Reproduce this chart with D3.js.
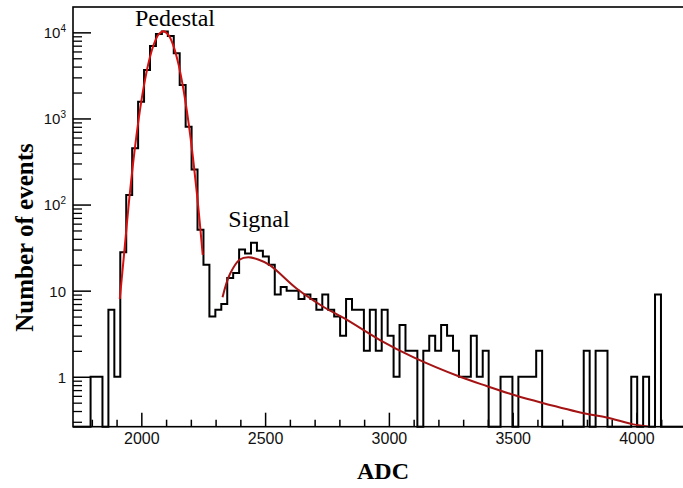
<!DOCTYPE html>
<html>
<head>
<meta charset="utf-8">
<script src="https://cdn.jsdelivr.net/npm/d3@7"></script>
<style>
  html, body { margin: 0; padding: 0; background: #fff; }
  svg { display: block; }
</style>
</head>
<body>
<svg id="chart" width="683" height="488"></svg>
<script>
// ---------------- data ----------------
// histogram: left edge of first bin (ADC), bin width (ADC), counts per bin
const binStart = 1795;
const binWidth = 24;
const counts = [
  1, 1, 0, 6, 1, 28, 129, 450, 1560, 3650,
  6930, 9600, 10200, 9060, 5700, 2440, 800, 256, 51, 20,
  5, 6, 7, 14, 16, 30, 27, 36, 29, 25,
  20, 9, 11, 10, 10, 8, 9, 8, 6, 9,
  6, 5, 3, 8, 6, 6, 2, 6, 2, 6,
  3, 1, 4, 2, 2, 0, 2, 3, 2, 4,
  3, 2, 1, 1, 3, 1, 2, 0, 0, 1,
  1, 0, 1, 1, 1, 2, 0, 0, 0, 0,
  0, 0, 0, 2, 0, 2, 2, 0, 0, 0,
  0, 1, 0, 1, 0, 9
];

// pedestal fit curve (ADC, events)
const pedestalADC = [1913, 1930, 1950, 1970, 1990, 2010, 2030, 2050, 2070, 2089, 2110, 2130, 2150, 2170, 2190, 2210, 2230, 2248];
const pedestalVal = [8, 26, 107, 363, 1017, 2355, 4525, 7190, 9460, 10300, 9280, 6925, 4275, 2183, 924, 324, 94, 26];

// signal fit curve (ADC, events)
const signalADC = [2328, 2358, 2398, 2432, 2472, 2519, 2627, 2735, 2829, 2964, 3100, 3287, 3395, 3509, 3617, 3792, 3880, 3987, 4048];
const signalVal = [8.4, 15.6, 23, 24.4, 23, 19.8, 10.6, 6.5, 4.6, 2.67, 1.68, 1.0, 0.78, 0.61, 0.50, 0.375, 0.337, 0.28, 0.265];

// axes
const xMajorTicks = [2000, 2500, 3000, 3500, 4000];
const xMinorTicks = [1800, 1900, 2100, 2200, 2300, 2400, 2600, 2700, 2800, 2900, 3100, 3200, 3300, 3400, 3600, 3700, 3800, 3900, 4100];
const yMajorTicks = [1, 10, 100, 1000, 10000];
const yTickLabels = [["1", ""], ["10", ""], ["10", "2"], ["10", "3"], ["10", "4"]];

const xTitle = "ADC";
const yTitle = "Number of events";
const annotations = ["Pedestal", "Signal"];

// ---------------- drawing ----------------
const svg = d3.select("#chart");
const L = 73, R = 683, T = 7, B = 426.7;

const x = d3.scaleLinear().domain([1724, 4188]).range([L, R]);
const y = d3.scaleLog().domain([0.263, 19700]).range([B, T]);

// minor y ticks
const yMinor = [];
[0.1, 1, 10, 100, 1000, 10000].forEach(d => {
  for (let m = 2; m <= 9; m++) {
    const v = d * m;
    if (v >= 0.263 && v <= 19700) yMinor.push(v);
  }
});

const tickFont = "'Liberation Sans', Arial, Helvetica, sans-serif";
const serif = "'Liberation Serif', 'Times New Roman', serif";

// x axis major
const gx = svg.append("g").attr("transform", `translate(0,${B})`)
  .call(d3.axisBottom(x).tickValues(xMajorTicks).tickSize(-14).tickPadding(6).tickFormat(d3.format("d")));
gx.select(".domain").remove();
gx.selectAll("line").attr("stroke", "#000").attr("stroke-width", 1.5);
gx.selectAll("text").attr("font-family", tickFont).attr("font-size", 16).attr("fill", "#111");

// x axis minor
const gxm = svg.append("g").attr("transform", `translate(0,${B})`)
  .call(d3.axisBottom(x).tickValues(xMinorTicks).tickSize(-7).tickFormat(""));
gxm.select(".domain").remove();
gxm.selectAll("line").attr("stroke", "#000").attr("stroke-width", 1.5);

// y axis major
const gy = svg.append("g").attr("transform", `translate(${L},0)`)
  .call(d3.axisLeft(y).tickValues(yMajorTicks).tickSize(-18).tickPadding(7).tickFormat(""));
gy.select(".domain").remove();
gy.selectAll("line").attr("stroke", "#000").attr("stroke-width", 1.5);
gy.selectAll(".tick").each(function(d, i) {
  const lab = yTickLabels[i];
  const t = d3.select(this).select("text")
    .attr("font-family", tickFont).attr("font-size", 15).attr("fill", "#111")
    .attr("x", -7).attr("dy", "0.36em").attr("text-anchor", "end");
  t.append("tspan").text(lab[0]);
  if (lab[1]) t.append("tspan").attr("font-size", 10).attr("dy", "-0.6em").text(lab[1]);
});

// y axis minor
const gym = svg.append("g").attr("transform", `translate(${L},0)`)
  .call(d3.axisLeft(y).tickValues(yMinor).tickSize(-9).tickFormat(""));
gym.select(".domain").remove();
gym.selectAll("line").attr("stroke", "#000").attr("stroke-width", 1.3);

// histogram step path
const pts = [];
const yv = c => c > 0 ? y(c) : B;
pts.push([x.invert(L), 0]);
pts.push([binStart, 0]);
counts.forEach((c, i) => {
  const a = binStart + i * binWidth;
  pts.push([a, c]);
  pts.push([a + binWidth, c]);
});
pts.push([binStart + counts.length * binWidth, 0]);
pts.push([x.invert(R + 5), 0]);
const stepLine = d3.line().x(d => x(d[0])).y(d => yv(d[1]));
svg.append("path").attr("d", stepLine(pts))
  .attr("fill", "none").attr("stroke", "#000").attr("stroke-width", 2)
  .attr("stroke-linejoin", "miter");

// fit curves
const curveLine = d3.line().x(d => x(d[0])).y(d => y(d[1])).curve(d3.curveCatmullRom.alpha(0.5));
svg.append("path").attr("d", curveLine(pedestalADC.map((a, i) => [a, pedestalVal[i]])))
  .attr("fill", "none").attr("stroke", "#d80f0f").attr("stroke-width", 2);
svg.append("path").attr("d", curveLine(signalADC.map((a, i) => [a, signalVal[i]])))
  .attr("fill", "none").attr("stroke", "#a51414").attr("stroke-width", 2);

// frame
svg.append("rect").attr("x", L).attr("y", T).attr("width", 700).attr("height", B - T)
  .attr("fill", "none").attr("stroke", "#000").attr("stroke-width", 1.6);

// annotations
svg.append("text").attr("x", 175).attr("y", 26).attr("text-anchor", "middle")
  .attr("font-family", serif).attr("font-size", 24).text(annotations[0]);
svg.append("text").attr("x", 259).attr("y", 226.5).attr("text-anchor", "middle")
  .attr("font-family", serif).attr("font-size", 24).text(annotations[1]);

// axis titles
svg.append("text").attr("x", 383).attr("y", 479).attr("text-anchor", "middle")
  .attr("font-family", serif).attr("font-weight", "bold").attr("font-size", 24)
  .text(xTitle);
svg.append("text").attr("transform", "translate(33,237.5) rotate(-90)").attr("text-anchor", "middle")
  .attr("font-family", serif).attr("font-weight", "bold").attr("font-size", 25)
  .text(yTitle);
</script>
</body>
</html>
